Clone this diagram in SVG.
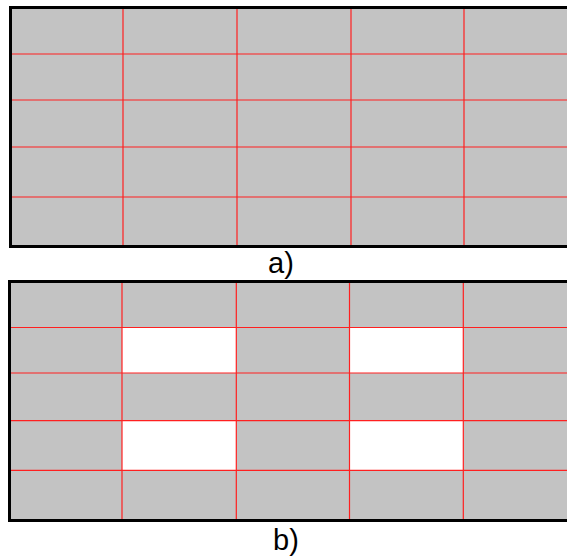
<svg xmlns="http://www.w3.org/2000/svg" width="567" height="557" viewBox="0 0 567 557">
<style>
.bg{fill:#c3c3c3}
.hole{fill:#ffffff}
.grid{stroke:#ff2020;stroke-width:1.2;fill:none}
.frame{stroke:#000;stroke-width:3;fill:none}
.lbl{font-family:"Liberation Sans",Arial,sans-serif;font-size:29px;fill:#000;text-anchor:middle}
</style>
<g id="panel-a">
<rect class="bg" x="10.5" y="7.5" width="560" height="239"/>
<g id="grid-a">
<path class="grid" d="M10.5 54H567M10.5 100H567M10.5 147H567M10.5 197H567M123 7.5V246.5M237 7.5V246.5M351 7.5V246.5M464 7.5V246.5"/>
</g>
<path class="frame" d="M570 7.5H10.5V246.5H570"/>
<text class="lbl" x="281" y="273">a)</text>
</g>
<g id="panel-b">
<rect class="bg" x="9.5" y="281.5" width="560" height="239"/>
<rect class="hole" x="122" y="327.5" width="114.3" height="45.5"/>
<rect class="hole" x="349.5" y="327.5" width="113.8" height="45.5"/>
<rect class="hole" x="122" y="420.7" width="114.3" height="49.6"/>
<rect class="hole" x="349.5" y="420.7" width="113.8" height="49.6"/>
<g id="grid-b">
<path class="grid" d="M9.5 327.5H567M9.5 373H567M9.5 420.7H567M9.5 470.3H567M122 281.5V520.5M236.3 281.5V520.5M349.5 281.5V520.5M463.3 281.5V520.5"/>
</g>
<path class="frame" d="M570 281.5H9.5V520.5H570"/>
<text class="lbl" x="286" y="550">b)</text>
</g>
</svg>
